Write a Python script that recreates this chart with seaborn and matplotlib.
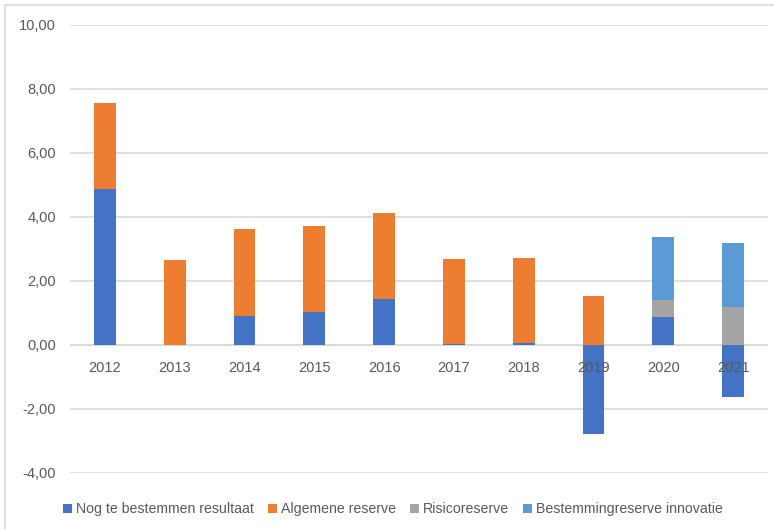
import matplotlib
matplotlib.use("Agg")
import matplotlib.pyplot as plt
import seaborn as sns
import numpy as np
import pandas as pd
from matplotlib.patches import Patch, Rectangle
from matplotlib.ticker import FuncFormatter

years = ["2012", "2013", "2014", "2015", "2016", "2017", "2018", "2019", "2020", "2021"]
series_names = ["Nog te bestemmen resultaat", "Algemene reserve", "Risicoreserve", "Bestemmingreserve innovatie"]
nog_te_bestemmen = [4.86, 0.00, 0.92, 1.04, 1.44, 0.03, 0.07, -2.77, 0.87, -1.64]
algemene_reserve = [2.69, 2.67, 2.71, 2.69, 2.70, 2.67, 2.66, 1.52, 0.00, 0.00]
risicoreserve = [0.00, 0.00, 0.00, 0.00, 0.00, 0.00, 0.00, 0.00, 0.54, 1.19]
bestemmingreserve = [0.00, 0.00, 0.00, 0.00, 0.00, 0.00, 0.00, 0.00, 1.98, 2.00]
y_ticks = [-4, -2, 0, 2, 4, 6, 8, 10]

colors = ["#4472C4", "#ED7D31", "#A5A5A5", "#5B9BD5"]
text_color = "#595959"
grid_color = "#D9D9D9"

sns.set_theme(style="white")
plt.rcParams["font.family"] = ["Liberation Sans", "DejaVu Sans"]

fig = plt.figure(figsize=(7.74, 5.29), dpi=100)
ax = fig.add_axes([70 / 774, (529 - 473) / 529, (768 - 70) / 774, (473 - 25) / 529])

all_series = [nog_te_bestemmen, algemene_reserve, risicoreserve, bestemmingreserve]
pos_cum = np.zeros(len(years))
neg_cum = np.zeros(len(years))
for name, vals, col in zip(series_names, all_series, colors):
    vals = np.array(vals, dtype=float)
    bottom = np.where(vals >= 0, pos_cum, neg_cum)
    df = pd.DataFrame({"year": years, "value": vals})
    sns.barplot(data=df, x="year", y="value", order=years, color=col, width=0.31,
                bottom=bottom, ax=ax, saturation=1, edgecolor="none", linewidth=0, zorder=3)
    pos_cum = pos_cum + np.where(vals >= 0, vals, 0)
    neg_cum = neg_cum + np.where(vals < 0, vals, 0)

ax.set_xlim(-0.5, len(years) - 0.5)
ax.set_ylim(-4, 10)
ax.set_yticks(y_ticks)
ax.yaxis.set_major_formatter(FuncFormatter(lambda v, p: f"{v:.2f}".replace(".", ",")))
ax.tick_params(axis="y", length=0, pad=10, labelsize=10.5, labelcolor=text_color)
ax.set_xticks([])
ax.set_xlabel("")
ax.set_ylabel("")
ax.grid(axis="y", color=grid_color, linewidth=1.2, zorder=0)
ax.set_axisbelow(True)
for s in ax.spines.values():
    s.set_visible(False)
ax.axhline(0, color=grid_color, linewidth=1.2, zorder=1)

for i, y in enumerate(years):
    ax.annotate(y, xy=(i, 0), xytext=(0, -11.5), textcoords="offset points",
                ha="center", va="top", fontsize=10.5, color=text_color, zorder=10)

handles = [Patch(facecolor=c, edgecolor="none") for c in colors]
fig.legend(handles, series_names, loc="center", bbox_to_anchor=(393 / 774, 1 - 509 / 529),
           ncol=4, frameon=False, fontsize=10.2, handlelength=0.6, handleheight=0.6,
           handletextpad=0.3, columnspacing=1.0, labelcolor=text_color)

fig.add_artist(Rectangle((5 / 774, -0.1), 1.2, 1.1 - 5 / 529 + 0.0, transform=fig.transFigure,
                         fill=False, edgecolor=grid_color, linewidth=1.2))

fig.savefig("out.png", dpi=100)
